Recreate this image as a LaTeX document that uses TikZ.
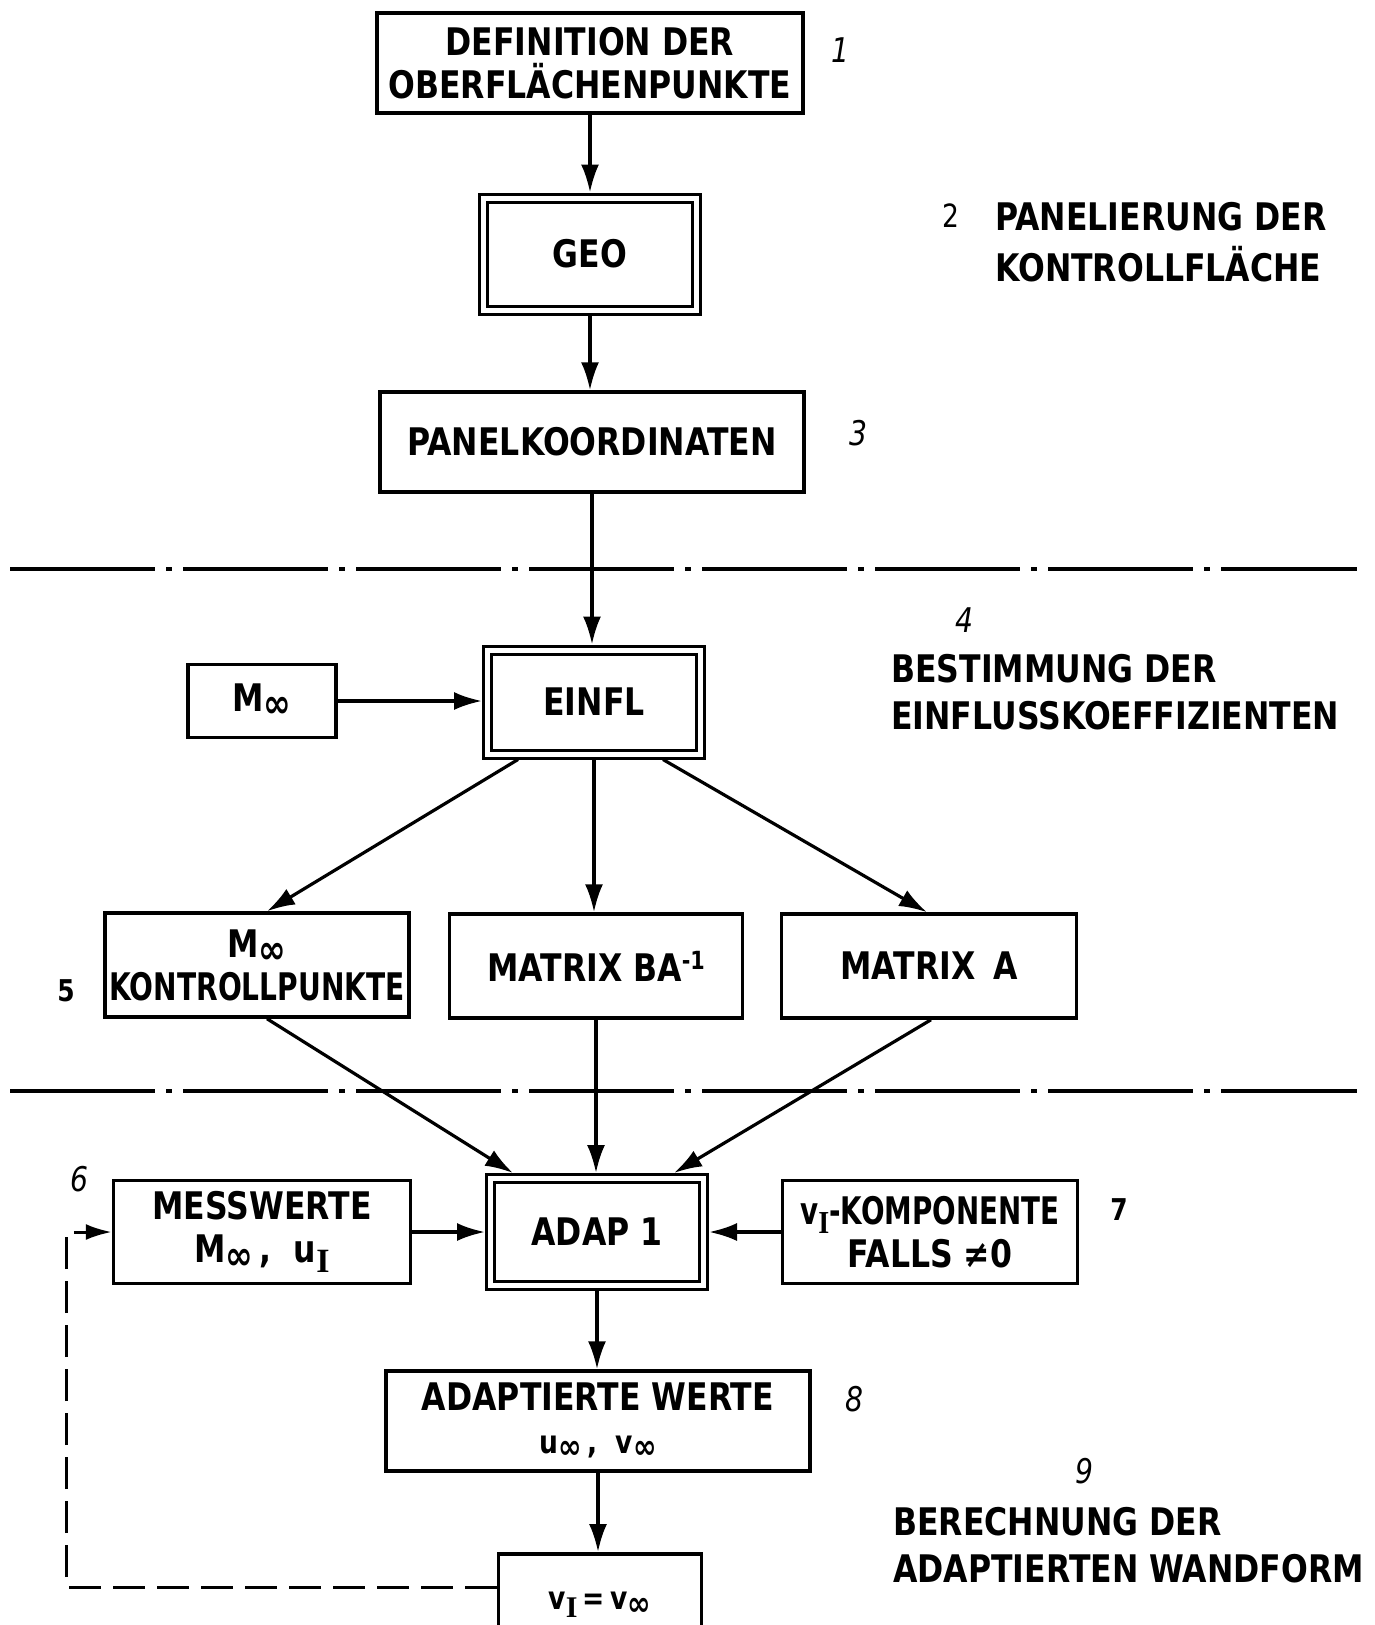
\documentclass[tikz,border=0pt]{standalone}
\usepackage{fontspec}
\setmainfont{DejaVu Sans}[FakeStretch=0.83]
\newfontfamily\serifI{Liberation Serif}
\usetikzlibrary{arrows.meta,calc}
\newcommand\isub[1]{\raisebox{-0.3ex}{\fontsize{40}{40}\selectfont #1}}
\newcommand\ssub[1]{\raisebox{-0.3ex}{\fontsize{34}{34}\selectfont #1}}
\newcommand\subI[1]{\raisebox{-0.45ex}{\fontsize{#1}{#1}\selectfont\serifI\bfseries I}}
\newcommand\isup[1]{\raisebox{12pt}{\fontsize{25}{25}\selectfont #1}}
\begin{document}
\begin{tikzpicture}[x=1pt,y=-1pt,
  blk/.style={draw, line width=3.5pt, inner sep=0pt, align=center,
    font=\bfseries\fontsize{38}{43}\selectfont},
  dbl/.style={blk, line width=3pt, double=white, double distance=5pt, outer sep=5.5pt},
  arr/.style={line width=3.2pt, -{Latex[length=28pt,width=18pt]}},
  rt/.style={inner sep=0pt, anchor=base west, font=\bfseries\fontsize{38}{43}\selectfont},
  hand/.style={inner sep=0pt, font=\itshape\fontsize{34}{40}\selectfont},
  typed/.style={inner sep=0pt, font=\fontsize{32}{40}\selectfont},
  sepline/.style={line width=4pt, dash pattern=on 145pt off 11pt on 6pt off 11pt},
  fb/.style={line width=3pt, dash pattern=on 32pt off 12pt}]
\useasboundingbox (0,0) rectangle (1374,1625);
\clip (0,0) rectangle (1374,1625);

% boxes
\node[blk, minimum width=426pt, minimum height=100pt] (def) at (590,63) {DEFINITION DER\\OBERFLÄCHENPUNKTE};
\node[dbl, minimum width=213pt, minimum height=112pt] (geo) at (590,254) {GEO};
\node[blk, minimum width=424pt, minimum height=100pt] (pan) at (592,442) {PANELKOORDINATEN};
\node[dbl, minimum width=213pt, minimum height=104pt] (einfl) at (594,702) {EINFL};
\node[blk, minimum width=148pt, minimum height=73pt] (minf) at (262,701) {M\isub{∞}};
\node[blk, minimum width=304pt, minimum height=104pt] (kp) at (257,965) {M\isub{∞}\\\scalebox{0.89}[1]{KONTROLLPUNKTE}};
\node[blk, minimum width=293pt, minimum height=104pt] (ba) at (596,966) {MATRIX BA\isup{-1}};
\node[blk, minimum width=295pt, minimum height=104pt] (ma) at (929,966) {MATRIX\, A};
\node[dbl, minimum width=213pt, minimum height=107pt] (adap) at (597,1232) {ADAP 1};
\node[blk, minimum width=297pt, minimum height=103pt] (mess) at (262,1232) {MESSWERTE\\M\isub{∞}\,,\ \ u\subI{34}};
\node[blk, minimum width=295pt, minimum height=103pt] (vk) at (930,1232) {\scalebox{0.88}[1]{v\subI{32}-KOMPONENTE}\\FALLS ≠0};
\node[blk, minimum width=424pt, minimum height=100pt] (aw) at (598,1421) {ADAPTIERTE WERTE\\{\fontsize{32}{32}\selectfont u\ssub{∞}\,,\ \ v\ssub{∞}}};
\node[blk, anchor=north, minimum width=203pt, text height=56pt, text depth=80pt] (vb) at (600,1552)
  {\fontsize{32}{32}\selectfont v\subI{30}\,=\,v\ssub{∞}};

% side labels
\node[hand] (n1) at (840,50) {1};
\node[typed] (n2) at (951,216) {2};
\node[rt] (t2a) at (995,230) {PANELIERUNG DER};
\node[rt] (t2b) at (995,281) {KONTROLLFLÄCHE};
\node[hand] (n3) at (858,433) {3};
\node[hand] (n4) at (964,620) {4};
\node[rt] (t4a) at (891,682) {BESTIMMUNG DER};
\node[rt] (t4b) at (891,729) {EINFLUSSKOEFFIZIENTEN};
\node[typed, font=\bfseries\fontsize{30}{36}\selectfont] (n5) at (66,991) {5};
\node[hand] (n6) at (79,1179) {6};
\node[typed, font=\bfseries\fontsize{30}{36}\selectfont] (n7) at (1119,1210) {7};
\node[hand] (n8) at (854,1399) {8};
\node[hand] (n9) at (1084,1471) {9};
\node[rt] (t9a) at (893,1535) {BERECHNUNG DER};
\node[rt] (t9b) at (893,1582) {ADAPTIERTEN WANDFORM};

% separators
\draw[sepline] (10,569) -- (1357,569);
\draw[sepline] (10,1091) -- (1357,1091);

% connectors
\draw[arr] (def.south) -- (def.south |- geo.north);
\draw[arr] (geo.south) -- (geo.south |- pan.north);
\draw[arr] (pan.south) -- (pan.south |- einfl.north);
\draw[arr] (minf.east) -- (minf.east -| einfl.west);
\draw[arr] ([xshift=-76pt]einfl.south) -- ([xshift=10pt]kp.north);
\draw[arr] (einfl.south) -- (einfl.south |- ba.north);
\draw[arr] ([xshift=69pt]einfl.south) -- ([xshift=-2pt]ma.north);
\draw[arr] ([xshift=10pt]kp.south) -- ([xshift=-84pt]adap.north);
\draw[arr] (ba.south) -- (ba.south |- adap.north);
\draw[arr] ([xshift=2pt]ma.south) -- ([xshift=77pt]adap.north);
\draw[arr] (mess.east) -- (mess.east -| adap.west);
\draw[arr] (vk.west) -- (vk.west -| adap.east);
\draw[arr] (adap.south) -- (adap.south |- aw.north);
\draw[arr] (aw.south) -- (aw.south |- vb.north);
\draw[fb, -{Latex[length=26pt,width=16pt]}] ([yshift=-35pt]vb.north west) -| ([xshift=-45pt]mess.west) -- (mess.west);
\end{tikzpicture}
\end{document}
